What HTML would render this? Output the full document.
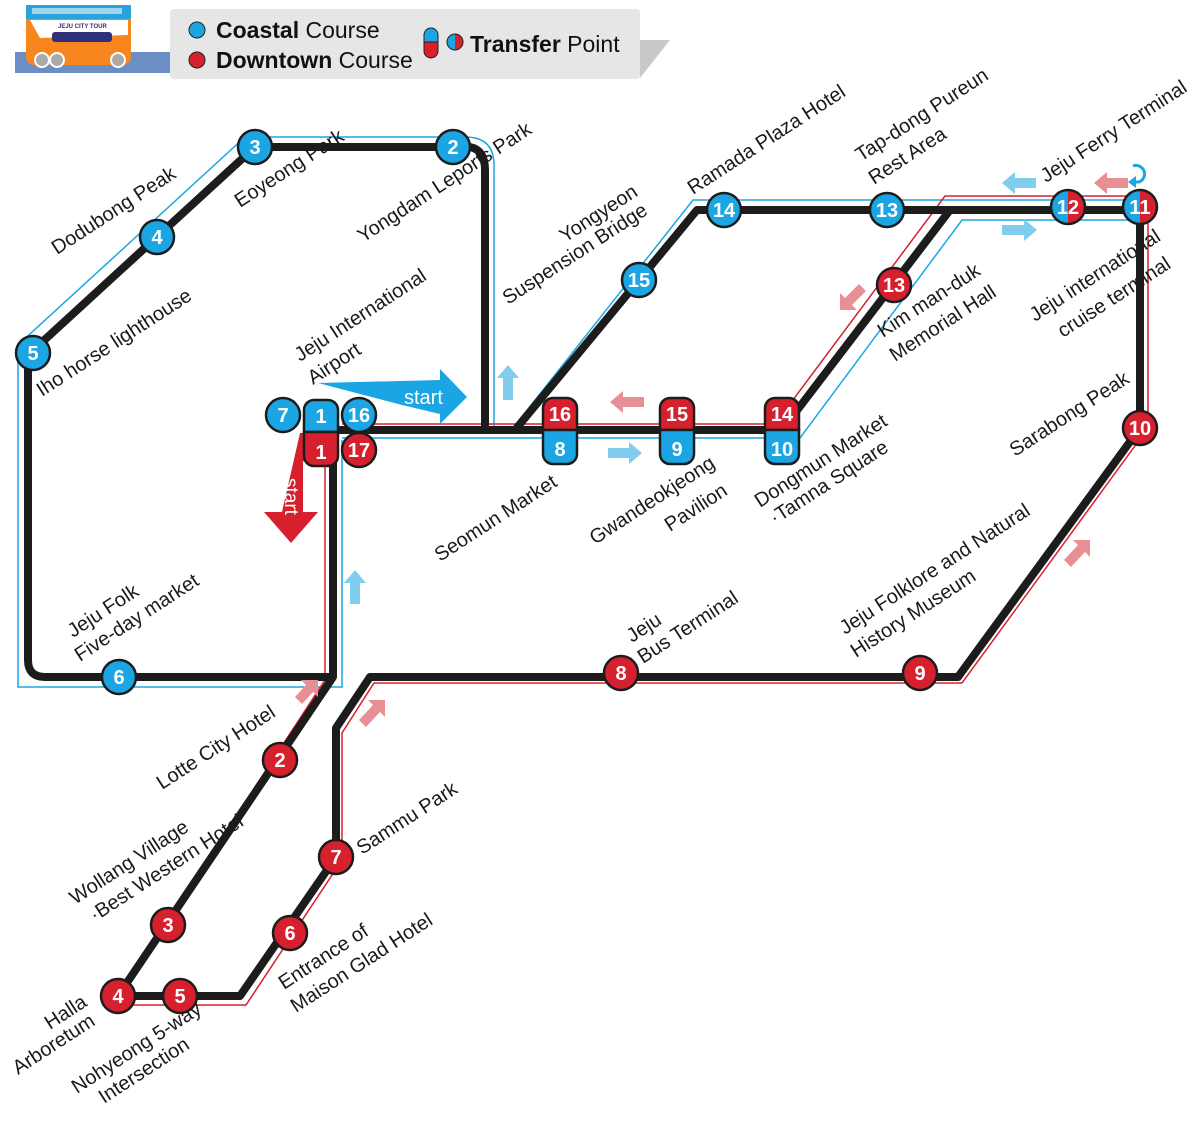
<!DOCTYPE html>
<html><head><meta charset="utf-8"><style>
html,body{margin:0;padding:0;background:#fff;}
svg{display:block;font-family:"Liberation Sans",sans-serif;}
.l{font-size:20px;fill:#1a1a1a;}
.n{font-size:20px;font-weight:bold;fill:#fff;text-anchor:middle;}
</style></head><body>
<svg width="1200" height="1142" viewBox="0 0 1200 1142" xmlns="http://www.w3.org/2000/svg">
<rect x="15" y="52" width="155" height="21" fill="#6b8ec4"/>
<rect x="26" y="5" width="105" height="60" rx="8" fill="#f7861f"/>
<rect x="26" y="5" width="105" height="14" fill="#2aa3dc"/>
<rect x="32" y="8" width="90" height="6" fill="#9fd5ef"/>
<path d="M30,20 L128,20 L128,35 L40,38 Z" fill="#fff"/>
<rect x="52" y="32" width="60" height="10" rx="3" fill="#2e2e7a"/>
<text x="58" y="28" font-size="6" fill="#2e2e7a" font-weight="bold">JEJU CITY TOUR</text>
<circle cx="42" cy="60" r="7" fill="#aaa" stroke="#fff" stroke-width="2"/>
<circle cx="57" cy="60" r="7" fill="#aaa" stroke="#fff" stroke-width="2"/>
<circle cx="118" cy="60" r="7" fill="#aaa" stroke="#fff" stroke-width="2"/>
<polygon points="640,40 670,40 640,78" fill="#c8c8c8"/>
<rect x="170" y="9" width="470" height="70" rx="4" fill="#e6e6e6"/>
<circle cx="197" cy="30" r="8" fill="#1ba6e3" stroke="#222" stroke-width="1"/>
<circle cx="197" cy="60" r="8" fill="#d6202e" stroke="#222" stroke-width="1"/>
<text x="216" y="38" font-size="23" fill="#111"><tspan font-weight="bold">Coastal</tspan> Course</text>
<text x="216" y="68" font-size="23" fill="#111"><tspan font-weight="bold">Downtown</tspan> Course</text>
<path d="M424,42 L424,35 a7,7 0 0 1 14,0 L438,42 Z" fill="#1ba6e3" stroke="#222"/>
<path d="M424,42 L424,51 a7,7 0 0 0 14,0 L438,42 Z" fill="#d6202e" stroke="#222"/>
<path d="M455,34 a8,8 0 0 0 0,16 Z" fill="#1ba6e3"/><path d="M455,34 a8,8 0 0 1 0,16 Z" fill="#d6202e"/>
<circle cx="455" cy="42" r="8" fill="none" stroke="#222"/>
<text x="470" y="52" font-size="23" fill="#111"><tspan font-weight="bold">Transfer</tspan> Point</text>

<g fill="none" stroke-width="1.5">
<path d="M342,440 L342,687 L18,687 L18,345 L245,137 L465,137 Q494,137 494,165 L494,428 L513,428 L693,200 L1150,200" stroke="#1ba6e3"/>
<path d="M342,438 L800,438 L962,220 L1140,220" stroke="#1ba6e3"/>
<path d="M342,424 L775,424 L945,196 L1148,196 L1148,428 L962,683 L374,683 L342,733 L342,860 L246,1005 L120,1005" stroke="#d6202e"/>
<path d="M325,440 L325,680 L165,925" stroke="#d6202e"/>
</g>
<g fill="none" stroke="#1c1c1c" stroke-width="8" stroke-linejoin="round">
<path d="M28,355 L28,660 Q28,677 45,677 L333,677"/>
<path d="M28,355 L255,147 L470,147 Q485,150 485,170 L485,430"/>
<path d="M333,430 L782,430"/>
<path d="M333,425 L333,677 L118,996 L240,996 L336,857 L336,728 L370,677 L958,677 L1140,428 L1140,210 L950,210 L782,430"/>
<path d="M515,430 L697,210 L1140,210"/>
</g>
<polygon points="318,383 440,380 440,369 467,397 440,424 440,414 402,405" fill="#1ba6e3"/>
<text x="404" y="404" font-size="20" fill="#fff">start</text>
<polygon points="300,433 318,433 303,462 303,512 318,512 291,543 264,512 282,512" fill="#d6202e"/>
<text x="285" y="478" font-size="19" fill="#fff" transform="rotate(90 285 478)">start</text>
<g fill="#80cdee">
<polygon points="508,365 519,378 513,378 513,400 503,400 503,378 497,378"/>
<polygon points="355,570 366,583 360,583 360,604 350,604 350,583 344,583"/>
<polygon points="642,453 629,442 629,448 608,448 608,458 629,458 629,464"/>
<polygon points="1002,183 1015,172 1015,178 1036,178 1036,188 1015,188 1015,194"/>
<polygon points="1037,230 1024,219 1024,225 1002,225 1002,235 1024,235 1024,241"/>
</g>
<g fill="#e88f96">
<polygon points="610,402 623,391 623,397 644,397 644,407 623,407 623,413"/>
<polygon points="1094,183 1107,172 1107,178 1128,178 1128,188 1107,188 1107,194"/>
<polygon points="840,310 857,310 852,305 866,291 859,284 845,298 840,293"/>
<polygon points="1090,540 1073,540 1078,545 1064,560 1071,567 1085,552 1090,557"/>
<polygon points="385,700 368,700 373,705 359,720 366,727 380,712 385,717"/>
<polygon points="318,680 301,680 306,685 295,697 302,704 313,692 318,697"/>
</g>
<path d="M1133,166 a8,8 0 1 1 6,16 l-6,0" fill="none" stroke="#1ba6e3" stroke-width="3"/>
<polygon points="1128,182 1136,176 1136,188" fill="#1ba6e3"/>

<g stroke="#1c1c1c" stroke-width="2.5" fill="#1ba6e3">
<circle cx="255" cy="147" r="17"/><circle cx="453" cy="147" r="17"/>
<circle cx="157" cy="237" r="17"/><circle cx="33" cy="353" r="17"/>
<circle cx="119" cy="677" r="17"/><circle cx="283" cy="415" r="17"/>
<circle cx="359" cy="415" r="17"/><circle cx="724" cy="210" r="17"/>
<circle cx="887" cy="210" r="17"/><circle cx="639" cy="280" r="17"/>
</g>
<g stroke="#1c1c1c" stroke-width="2.5" fill="#d6202e">
<circle cx="359" cy="450" r="17"/><circle cx="894" cy="285" r="17"/>
<circle cx="1140" cy="428" r="17"/><circle cx="920" cy="673" r="17"/>
<circle cx="621" cy="673" r="17"/><circle cx="280" cy="760" r="17"/>
<circle cx="336" cy="857" r="17"/><circle cx="168" cy="925" r="17"/>
<circle cx="290" cy="933" r="17"/><circle cx="118" cy="996" r="17"/>
<circle cx="180" cy="996" r="17"/>
</g>
<g stroke="#1c1c1c" stroke-width="2.5">
<path d="M304,432 L304,410 a10,10 0 0 1 10,-10 L328,400 a10,10 0 0 1 10,10 L338,432 Z" fill="#1ba6e3"/>
<path d="M304,432 L304,456 a10,10 0 0 0 10,10 L328,466 a10,10 0 0 0 10,-10 L338,432 Z" fill="#d6202e"/>
<path d="M543,430 L543,408 a10,10 0 0 1 10,-10 L567,398 a10,10 0 0 1 10,10 L577,430 Z" fill="#d6202e"/>
<path d="M543,430 L543,454 a10,10 0 0 0 10,10 L567,464 a10,10 0 0 0 10,-10 L577,430 Z" fill="#1ba6e3"/>
<path d="M660,430 L660,408 a10,10 0 0 1 10,-10 L684,398 a10,10 0 0 1 10,10 L694,430 Z" fill="#d6202e"/>
<path d="M660,430 L660,454 a10,10 0 0 0 10,10 L684,464 a10,10 0 0 0 10,-10 L694,430 Z" fill="#1ba6e3"/>
<path d="M765,430 L765,408 a10,10 0 0 1 10,-10 L789,398 a10,10 0 0 1 10,10 L799,430 Z" fill="#d6202e"/>
<path d="M765,430 L765,454 a10,10 0 0 0 10,10 L789,464 a10,10 0 0 0 10,-10 L799,430 Z" fill="#1ba6e3"/>
</g>
<path d="M1068,190 a17,17 0 0 0 0,34 Z" fill="#1ba6e3"/><path d="M1068,190 a17,17 0 0 1 0,34 Z" fill="#d6202e"/>
<circle cx="1068" cy="207" r="17" fill="none" stroke="#1c1c1c" stroke-width="2.5"/>
<path d="M1140,190 a17,17 0 0 0 0,34 Z" fill="#1ba6e3"/><path d="M1140,190 a17,17 0 0 1 0,34 Z" fill="#d6202e"/>
<circle cx="1140" cy="207" r="17" fill="none" stroke="#1c1c1c" stroke-width="2.5"/>
<g>
<text x="255" y="154" class="n">3</text><text x="453" y="154" class="n">2</text>
<text x="157" y="244" class="n">4</text><text x="33" y="360" class="n">5</text>
<text x="119" y="684" class="n">6</text><text x="283" y="422" class="n">7</text>
<text x="321" y="423" class="n">1</text><text x="359" y="422" class="n">16</text>
<text x="321" y="459" class="n">1</text><text x="359" y="457" class="n">17</text>
<text x="724" y="217" class="n">14</text><text x="887" y="217" class="n">13</text>
<text x="639" y="287" class="n">15</text><text x="894" y="292" class="n">13</text>
<text x="1068" y="214" class="n">12</text><text x="1140" y="214" class="n">11</text>
<text x="1140" y="435" class="n">10</text><text x="920" y="680" class="n">9</text>
<text x="621" y="680" class="n">8</text><text x="280" y="767" class="n">2</text>
<text x="336" y="864" class="n">7</text><text x="168" y="932" class="n">3</text>
<text x="290" y="940" class="n">6</text><text x="118" y="1003" class="n">4</text>
<text x="180" y="1003" class="n">5</text>
<text x="560" y="421" class="n">16</text><text x="560" y="456" class="n">8</text>
<text x="677" y="421" class="n">15</text><text x="677" y="456" class="n">9</text>
<text x="782" y="421" class="n">14</text><text x="782" y="456" class="n">10</text>
</g>
<g class="l">
<text transform="translate(57,255) rotate(-33)">Dodubong Peak</text>
<text transform="translate(240,208) rotate(-33)">Eoyeong Park</text>
<text transform="translate(363,243) rotate(-33)">Yongdam Leports Park</text>
<text transform="translate(565,243) rotate(-33)">Yongyeon</text>
<text transform="translate(508,305) rotate(-33)">Suspension Bridge</text>
<text transform="translate(693,195) rotate(-33)">Ramada Plaza Hotel</text>
<text transform="translate(861,162) rotate(-33)">Tap-dong Pureun</text>
<text transform="translate(874,185) rotate(-33)">Rest Area</text>
<text transform="translate(1046,183) rotate(-33)">Jeju Ferry Terminal</text>
<text transform="translate(42,397) rotate(-33)">Iho horse lighthouse</text>
<text transform="translate(300,362) rotate(-33)">Jeju International</text>
<text transform="translate(313,385) rotate(-33)">Airport</text>
<text transform="translate(883,338) rotate(-33)">Kim man-duk</text>
<text transform="translate(895,362) rotate(-33)">Memorial Hall</text>
<text transform="translate(1035,322) rotate(-33)">Jeju international</text>
<text transform="translate(1063,338) rotate(-33)">cruise terminal</text>
<text transform="translate(1015,457) rotate(-33)">Sarabong Peak</text>
<text transform="translate(440,562) rotate(-33)">Seomun Market</text>
<text transform="translate(595,545) rotate(-33)">Gwandeokjeong</text>
<text transform="translate(670,532) rotate(-33)">Pavilion</text>
<text transform="translate(760,508) rotate(-33)">Dongmun Market</text>
<text transform="translate(775,525) rotate(-33)">·Tamna Square</text>
<text transform="translate(73,638) rotate(-33)">Jeju Folk</text>
<text transform="translate(80,662) rotate(-33)">Five-day market</text>
<text transform="translate(632,643) rotate(-33)">Jeju</text>
<text transform="translate(643,664) rotate(-33)">Bus Terminal</text>
<text transform="translate(845,635) rotate(-33)">Jeju Folklore and Natural</text>
<text transform="translate(856,658) rotate(-33)">History Museum</text>
<text transform="translate(162,790) rotate(-33)">Lotte City Hotel</text>
<text transform="translate(75,905) rotate(-33)">Wollang Village</text>
<text transform="translate(95,922) rotate(-33)">·Best Western Hotel</text>
<text transform="translate(362,855) rotate(-33)">Sammu Park</text>
<text transform="translate(284,990) rotate(-33)">Entrance of</text>
<text transform="translate(296,1013) rotate(-33)">Maison Glad Hotel</text>
<text transform="translate(50,1030) rotate(-33)">Halla</text>
<text transform="translate(18,1075) rotate(-33)">Arboretum</text>
<text transform="translate(77,1094) rotate(-33)">Nohyeong 5-way</text>
<text transform="translate(104,1104) rotate(-33)">Intersection</text>
</g>
</svg>
</body></html>
